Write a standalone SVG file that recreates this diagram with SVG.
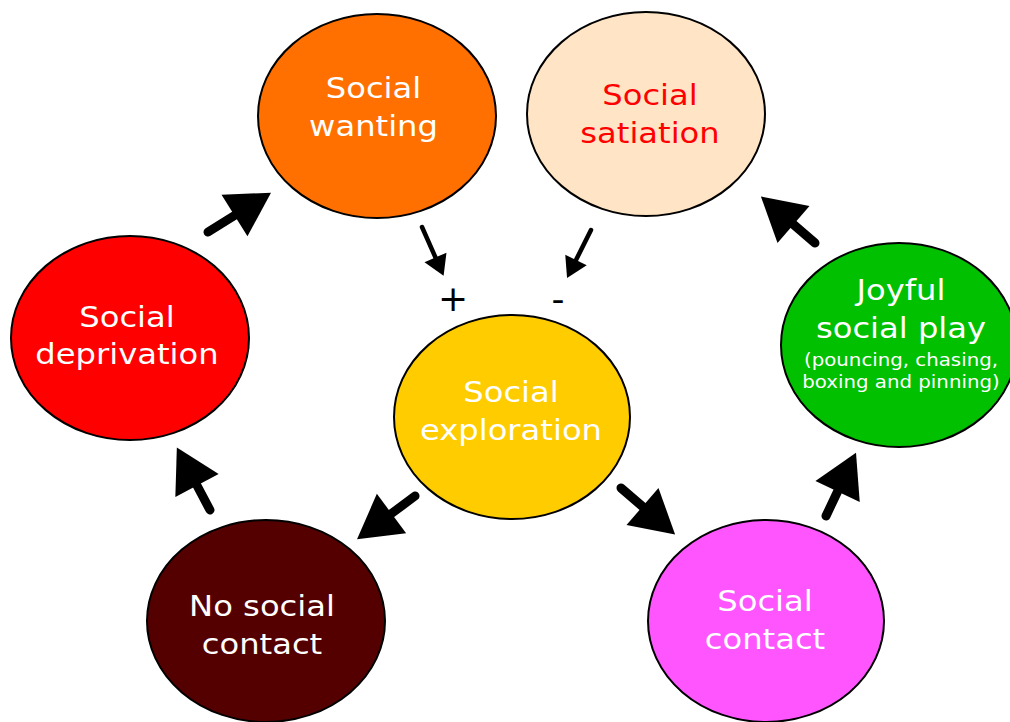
<svg xmlns="http://www.w3.org/2000/svg" width="1010" height="722" viewBox="0 0 1010 722">
  <style>
    .node { stroke: #000; stroke-width: 2; }
    .lbl { font-family: "DejaVu Sans", Verdana, sans-serif; font-size: 28.5px; fill: #fff; text-anchor: middle; }
    .sm { font-size: 17.5px; }
    .big { stroke: #000; stroke-width: 9; stroke-linecap: round; fill: none; marker-end: url(#headBig); }
    .thin { stroke: #000; stroke-width: 4.5; stroke-linecap: round; fill: none; marker-end: url(#headSmall); }
    .sign { font-family: "DejaVu Sans", Verdana, sans-serif; font-size: 36px; fill: #000; text-anchor: middle; }
  </style>
  <defs>
    <marker id="headBig" markerUnits="userSpaceOnUse" markerWidth="43" markerHeight="49" refX="0" refY="24.5" orient="auto" overflow="visible">
      <path d="M0,0 L43,24.5 L0,49 Z" fill="#000"/>
    </marker>
    <marker id="headSmall" markerUnits="userSpaceOnUse" markerWidth="20" markerHeight="24" refX="0" refY="12" orient="auto" overflow="visible">
      <path d="M0,0 L20,12 L0,24 Z" fill="#000"/>
    </marker>
  </defs>
  <rect width="1010" height="722" fill="#fff"/>

  <g id="connectors">
    <line class="big" x1="208" y1="232" x2="234.5" y2="215.5"/>
    <line class="big" x1="415" y1="496" x2="391.5" y2="513.5"/>
    <line class="big" x1="621" y1="488" x2="642.5" y2="506.5"/>
    <line class="big" x1="210" y1="510" x2="197" y2="485.5"/>
    <line class="big" x1="826" y1="516" x2="837.6" y2="491.5"/>
    <line class="big" x1="815" y1="243" x2="793.5" y2="224.5"/>
    <line class="thin" x1="422" y1="227" x2="435.5" y2="257.5"/>
    <line class="thin" x1="591" y1="230" x2="576" y2="260"/>
    <text class="sign" x="453" y="311">+</text>
    <text class="sign" x="558" y="311">-</text>
  </g>

  <g id="social-wanting">
    <ellipse class="node" cx="377" cy="116" rx="119" ry="102" fill="#FF7000"/>
    <text class="lbl" transform="translate(373.5,0) scale(1.13,1)"><tspan x="0" y="98">Social</tspan><tspan x="0" y="136">wanting</tspan></text>
  </g>

  <g id="social-satiation">
    <ellipse class="node" cx="646" cy="114" rx="119" ry="102" fill="#FFE5C5"/>
    <text class="lbl" style="fill:#FF0000" transform="translate(650,0) scale(1.13,1)"><tspan x="0" y="105">Social</tspan><tspan x="0" y="143">satiation</tspan></text>
  </g>

  <g id="social-deprivation">
    <ellipse class="node" cx="130" cy="338" rx="119" ry="102" fill="#FF0000"/>
    <text class="lbl" transform="translate(127,0) scale(1.13,1)"><tspan x="0" y="327">Social</tspan><tspan x="0" y="364">deprivation</tspan></text>
  </g>

  <g id="social-exploration">
    <ellipse class="node" cx="512" cy="417" rx="118" ry="102" fill="#FFCC00"/>
    <text class="lbl" transform="translate(511,0) scale(1.13,1)"><tspan x="0" y="402">Social</tspan><tspan x="0" y="440">exploration</tspan></text>
  </g>

  <g id="joyful-social-play">
    <ellipse class="node" cx="899" cy="345" rx="118" ry="102" fill="#00C000"/>
    <text class="lbl" transform="translate(901,0) scale(1.13,1)"><tspan x="0" y="300">Joyful</tspan><tspan x="0" y="338">social play</tspan><tspan class="sm" x="0" y="366">(pouncing, chasing,</tspan><tspan class="sm" x="0" y="388">boxing and pinning)</tspan></text>
  </g>

  <g id="no-social-contact">
    <ellipse class="node" cx="266" cy="621" rx="119" ry="101" fill="#550000"/>
    <text class="lbl" transform="translate(262,0) scale(1.13,1)"><tspan x="0" y="616">No social</tspan><tspan x="0" y="654">contact</tspan></text>
  </g>

  <g id="social-contact">
    <ellipse class="node" cx="766" cy="621" rx="118" ry="101" fill="#FF55FF"/>
    <text class="lbl" transform="translate(765,0) scale(1.13,1)"><tspan x="0" y="611">Social</tspan><tspan x="0" y="649">contact</tspan></text>
  </g>
</svg>
